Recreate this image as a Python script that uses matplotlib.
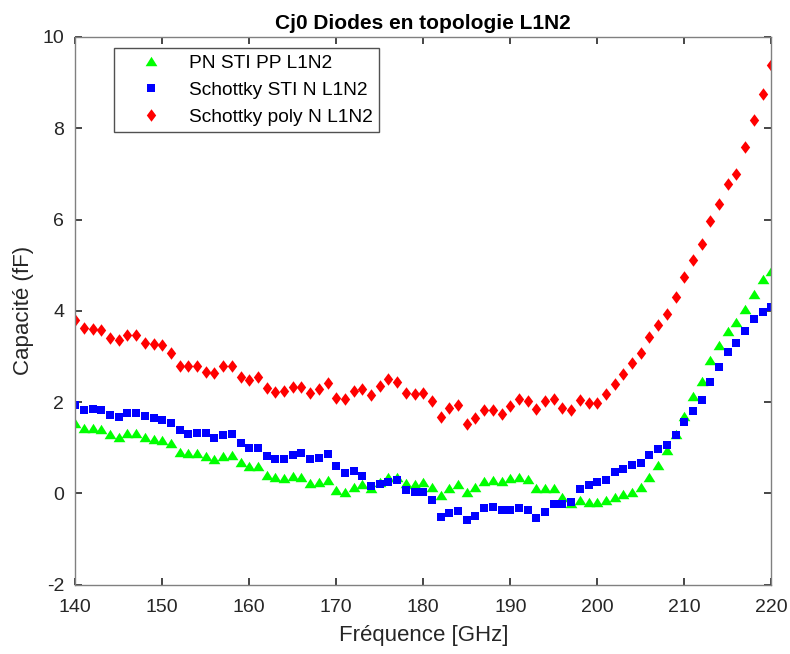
import numpy as np
import matplotlib
matplotlib.use('Agg')
import matplotlib.pyplot as plt

plt.rcParams['font.family'] = ['Liberation Sans', 'DejaVu Sans']
plt.rcParams['axes.unicode_minus'] = False

# frequency sweep, one point per GHz
freq = np.arange(140, 221)

# PN STI PP L1N2
cj_pn = [1.55, 1.43, 1.44, 1.41, 1.31, 1.24, 1.32, 1.32, 1.24, 1.20,
         1.17, 1.10, 0.91, 0.88, 0.88, 0.81, 0.76, 0.83, 0.84, 0.68,
         0.59, 0.59, 0.41, 0.35, 0.33, 0.38, 0.37, 0.22, 0.24, 0.30,
         0.08, 0.03, 0.15, 0.21, 0.11, 0.26, 0.36, 0.37, 0.22, 0.21,
         0.24, 0.15, -0.03, 0.11, 0.21, 0.04, 0.15, 0.28, 0.30, 0.28,
         0.33, 0.35, 0.32, 0.12, 0.12, 0.11, -0.09, -0.21, -0.14, -0.18,
         -0.18, -0.14, -0.07, -0.01, 0.04, 0.13, 0.37, 0.62, 0.95, 1.30,
         1.70, 2.14, 2.47, 2.92, 3.25, 3.56, 3.76, 4.05, 4.37, 4.69,
         4.88]

# Schottky STI N L1N2
cj_sti = [1.94, 1.83, 1.85, 1.83, 1.72, 1.68, 1.76, 1.77, 1.70, 1.66,
          1.61, 1.55, 1.39, 1.30, 1.33, 1.32, 1.22, 1.29, 1.31, 1.11,
          1.00, 1.00, 0.82, 0.76, 0.76, 0.84, 0.89, 0.76, 0.78, 0.86,
          0.59, 0.45, 0.48, 0.39, 0.17, 0.21, 0.26, 0.29, 0.08, 0.03,
          0.03, -0.14, -0.51, -0.42, -0.38, -0.58, -0.49, -0.33, -0.29, -0.36,
          -0.36, -0.31, -0.36, -0.53, -0.40, -0.23, -0.23, -0.18, 0.09, 0.18,
          0.25, 0.30, 0.46, 0.54, 0.63, 0.67, 0.85, 0.98, 1.07, 1.29,
          1.57, 1.81, 2.05, 2.45, 2.76, 3.10, 3.30, 3.56, 3.83, 3.98,
          4.09]

# Schottky poly N L1N2
cj_poly = [3.80, 3.62, 3.60, 3.58, 3.41, 3.35, 3.48, 3.46, 3.29, 3.27,
           3.25, 3.07, 2.80, 2.80, 2.79, 2.67, 2.64, 2.79, 2.78, 2.56,
           2.49, 2.54, 2.30, 2.22, 2.25, 2.34, 2.32, 2.21, 2.29, 2.41,
           2.08, 2.07, 2.24, 2.29, 2.16, 2.35, 2.51, 2.45, 2.21, 2.18,
           2.21, 2.03, 1.68, 1.87, 1.93, 1.52, 1.66, 1.83, 1.83, 1.74,
           1.92, 2.06, 2.02, 1.85, 2.03, 2.06, 1.87, 1.83, 2.05, 1.97,
           1.99, 2.17, 2.39, 2.62, 2.85, 3.08, 3.42, 3.70, 3.92, 4.31,
           4.73, 5.11, 5.46, 5.97, 6.34, 6.78, 7.00, 7.59, 8.18, 8.76,
           9.39]

labels = ['PN STI PP L1N2', 'Schottky STI N L1N2', 'Schottky poly N L1N2']

# wide, flat triangle and tall diamond
tri = [(0, 0.8), (-1, -0.8), (1, -0.8), (0, 0.8)]
dia = [(0, 1), (0.75, 0), (0, -1), (-0.75, 0), (0, 1)]

fig = plt.figure(figsize=(7.9, 6.54), dpi=100)
ax = fig.add_axes([0.0953, 0.106, 0.8810, 0.8375])

ax.plot(freq, cj_pn, linestyle='none', marker=tri, markersize=8.5,
        color=(0, 1, 0), markeredgewidth=0, label=labels[0])
ax.plot(freq, cj_sti, linestyle='none', marker='s', markersize=5.6,
        color=(0, 0, 1), markeredgewidth=0, label=labels[1])
ax.plot(freq, cj_poly, linestyle='none', marker=dia, markersize=9,
        color=(1, 0, 0), markeredgewidth=0, label=labels[2])

ax.set_xlim(140, 220)
ax.set_ylim(-2, 10)
ax.set_xticks(np.arange(140, 221, 10))
ax.set_yticks(np.arange(-2, 11, 2))

for s in ax.spines.values():
    s.set_color('#808080')
    s.set_linewidth(1.0)
ax.tick_params(direction='in', top=True, right=True, length=5, width=1.2,
               color='#262626', labelcolor='#262626', labelsize=14)
ax.tick_params(axis='x', pad=10)
ax.tick_params(axis='y', pad=8)

ax.set_xlabel('Fréquence [GHz]', fontsize=16, color='#262626', labelpad=7)
ax.set_ylabel('Capacité (fF)', fontsize=16, color='#262626', labelpad=6)
ax.set_title('Cj0 Diodes en topologie L1N2', fontsize=15, fontweight='bold',
             pad=6)

leg = ax.legend(loc='upper left', bbox_to_anchor=(0.0556, 0.980),
                fontsize=13.8, frameon=True, fancybox=False,
                edgecolor='#262626', borderpad=0.33, labelspacing=0.5,
                handletextpad=0.38, handlelength=3.2, borderaxespad=0)
leg.get_frame().set_linewidth(1.0)

fig.savefig('out.png', dpi=100)
